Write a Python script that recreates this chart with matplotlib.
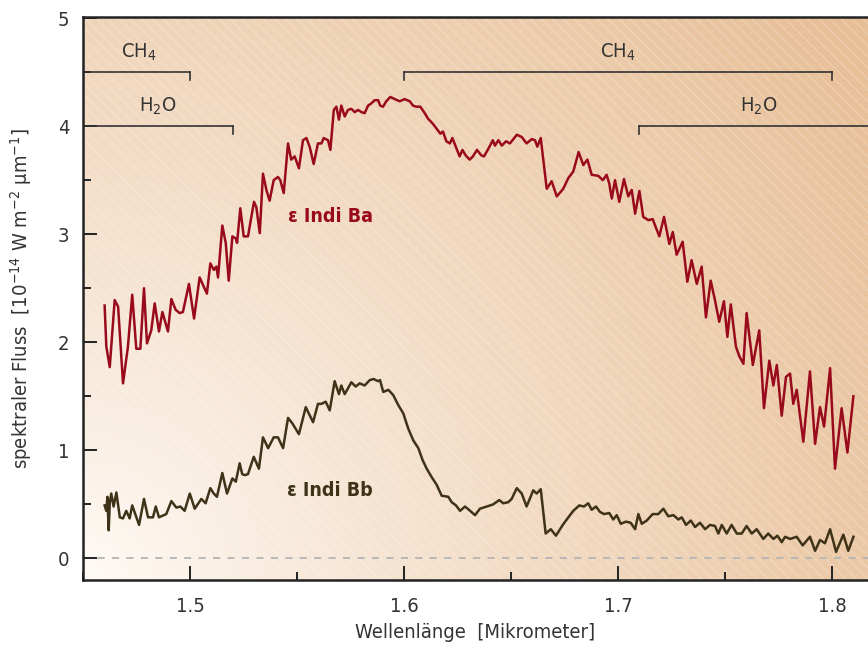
import numpy as np
import matplotlib
matplotlib.use("Agg")
import matplotlib.pyplot as plt
from matplotlib.patches import Rectangle
from matplotlib.ticker import MultipleLocator

plt.rcParams['font.family'] = ['Liberation Sans Narrow', 'DejaVu Sans']
plt.rcParams['font.stretch'] = 'condensed'
plt.rcParams['mathtext.default'] = 'regular'
plt.rcParams['hatch.linewidth'] = 0.8

# epsilon Indi Ba (red)
wl_ba = [1.4601, 1.4609, 1.4625, 1.4648, 1.4664, 1.4687, 1.4710, 1.4730, 1.4749, 1.4768,
         1.4785, 1.4799, 1.4819, 1.4835, 1.4855, 1.4871, 1.4897, 1.4913, 1.4933, 1.4952,
         1.4967, 1.4995, 1.5019, 1.5045, 1.5079, 1.5095, 1.5111, 1.5123, 1.5131, 1.5151,
         1.5167, 1.5181, 1.5198, 1.5214, 1.5220, 1.5235, 1.5251, 1.5271, 1.5299, 1.5310,
         1.5326, 1.5341, 1.5357, 1.5372, 1.5391, 1.5411, 1.5422, 1.5438, 1.5458, 1.5473,
         1.5489, 1.5509, 1.5528, 1.5544, 1.5559, 1.5578, 1.5598, 1.5614, 1.5625, 1.5645,
         1.5656, 1.5672, 1.5684, 1.5696, 1.5707, 1.5723, 1.5738, 1.5754, 1.5770, 1.5785,
         1.5801, 1.5816, 1.5832, 1.5847, 1.5863, 1.5879, 1.5889, 1.5902, 1.5917, 1.5936,
         1.5957, 1.5980, 1.6003, 1.6027, 1.6042, 1.6058, 1.6076, 1.6097, 1.6112, 1.6136,
         1.6151, 1.6170, 1.6182, 1.6198, 1.6214, 1.6226, 1.6242, 1.6260, 1.6273, 1.6288,
         1.6307, 1.6322, 1.6341, 1.6361, 1.6374, 1.6394, 1.6415, 1.6425, 1.6441, 1.6457,
         1.6477, 1.6495, 1.6527, 1.6550, 1.6573, 1.6597, 1.6612, 1.6623, 1.6639, 1.6667,
         1.6690, 1.6714, 1.6744, 1.6768, 1.6791, 1.6816, 1.6838, 1.6857, 1.6877, 1.6908,
         1.6929, 1.6947, 1.6959, 1.6971, 1.6986, 1.7006, 1.7028, 1.7048, 1.7064, 1.7080,
         1.7100, 1.7118, 1.7142, 1.7162, 1.7193, 1.7215, 1.7240, 1.7256, 1.7274, 1.7302,
         1.7324, 1.7344, 1.7368, 1.7391, 1.7411, 1.7433, 1.7453, 1.7473, 1.7495, 1.7511,
         1.7527, 1.7551, 1.7567, 1.7586, 1.7601, 1.7630, 1.7660, 1.7682, 1.7707, 1.7726,
         1.7742, 1.7765, 1.7785, 1.7804, 1.7819, 1.7835, 1.7866, 1.7897, 1.7921, 1.7944,
         1.7963, 1.7991, 1.8014, 1.8045, 1.8072, 1.8100]
flux_ba = [2.34, 1.96, 1.77, 2.39, 2.33, 1.62, 1.96, 2.44, 1.94, 1.94,
           2.50, 1.99, 2.11, 2.36, 2.10, 2.28, 2.10, 2.40, 2.30, 2.27,
           2.28, 2.54, 2.22, 2.60, 2.45, 2.73, 2.67, 2.70, 2.60, 3.08,
           2.92, 2.57, 2.98, 2.96, 2.92, 3.24, 2.98, 2.98, 3.30, 3.25,
           3.01, 3.56, 3.41, 3.31, 3.50, 3.53, 3.50, 3.38, 3.84, 3.69,
           3.72, 3.61, 3.87, 3.89, 3.81, 3.65, 3.84, 3.84, 3.89, 3.87,
           3.78, 4.15, 4.18, 4.06, 4.19, 4.09, 4.15, 4.16, 4.13, 4.15,
           4.13, 4.12, 4.19, 4.21, 4.24, 4.24, 4.19, 4.18, 4.23, 4.27,
           4.25, 4.23, 4.25, 4.23, 4.19, 4.18, 4.18, 4.12, 4.07, 4.02,
           3.98, 3.93, 3.95, 3.86, 3.84, 3.89, 3.81, 3.72, 3.78, 3.73,
           3.69, 3.72, 3.78, 3.73, 3.72, 3.79, 3.87, 3.82, 3.87, 3.82,
           3.86, 3.84, 3.92, 3.90, 3.84, 3.88, 3.87, 3.81, 3.89, 3.42,
           3.49, 3.35, 3.42, 3.52, 3.58, 3.76, 3.64, 3.69, 3.55, 3.54,
           3.50, 3.55, 3.47, 3.33, 3.50, 3.30, 3.51, 3.35, 3.41, 3.19,
           3.40, 3.16, 3.13, 3.14, 2.98, 3.16, 2.91, 3.02, 2.81, 2.93,
           2.56, 2.76, 2.54, 2.70, 2.23, 2.57, 2.39, 2.19, 2.38, 2.05,
           2.35, 1.96, 1.87, 1.80, 2.27, 1.79, 2.11, 1.39, 1.83, 1.60,
           1.79, 1.32, 1.68, 1.71, 1.43, 1.56, 1.08, 1.73, 1.06, 1.40,
           1.22, 1.76, 0.83, 1.39, 0.98, 1.50]

# epsilon Indi Bb (dark brown)
wl_bb = [1.4601, 1.4609, 1.4614, 1.4620, 1.4625, 1.4632, 1.4643, 1.4656, 1.4672, 1.4687,
         1.4702, 1.4718, 1.4730, 1.4762, 1.4785, 1.4804, 1.4827, 1.4840, 1.4855, 1.4889,
         1.4913, 1.4936, 1.4955, 1.4975, 1.4999, 1.5022, 1.5053, 1.5073, 1.5095, 1.5111,
         1.5126, 1.5151, 1.5173, 1.5198, 1.5214, 1.5232, 1.5244, 1.5256, 1.5271, 1.5298,
         1.5322, 1.5341, 1.5365, 1.5391, 1.5411, 1.5435, 1.5458, 1.5478, 1.5509, 1.5541,
         1.5575, 1.5598, 1.5614, 1.5634, 1.5653, 1.5676, 1.5696, 1.5707, 1.5723, 1.5754,
         1.5774, 1.5793, 1.5816, 1.5840, 1.5858, 1.5879, 1.5888, 1.5903, 1.5927, 1.5950,
         1.5973, 1.5997, 1.6020, 1.6044, 1.6067, 1.6087, 1.6106, 1.6130, 1.6153, 1.6176,
         1.6207, 1.6223, 1.6243, 1.6262, 1.6285, 1.6309, 1.6332, 1.6355, 1.6387, 1.6417,
         1.6445, 1.6464, 1.6487, 1.6503, 1.6527, 1.6550, 1.6573, 1.6604, 1.6620, 1.6639,
         1.6662, 1.6686, 1.6710, 1.6742, 1.6768, 1.6791, 1.6819, 1.6841, 1.6861, 1.6877,
         1.6897, 1.6916, 1.6935, 1.6959, 1.6978, 1.6994, 1.7013, 1.7037, 1.7059, 1.7080,
         1.7095, 1.7111, 1.7134, 1.7162, 1.7188, 1.7212, 1.7235, 1.7259, 1.7282, 1.7298,
         1.7318, 1.7340, 1.7360, 1.7383, 1.7407, 1.7430, 1.7453, 1.7469, 1.7485, 1.7508,
         1.7531, 1.7555, 1.7578, 1.7601, 1.7625, 1.7648, 1.7679, 1.7702, 1.7726, 1.7745,
         1.7765, 1.7781, 1.7804, 1.7835, 1.7863, 1.7897, 1.7921, 1.7944, 1.7967, 1.7991,
         1.8019, 1.8053, 1.8076, 1.8100]
flux_bb = [0.49, 0.44, 0.57, 0.26, 0.51, 0.60, 0.48, 0.61, 0.38, 0.37,
           0.44, 0.37, 0.49, 0.31, 0.55, 0.38, 0.38, 0.48, 0.38, 0.41,
           0.53, 0.47, 0.48, 0.44, 0.60, 0.46, 0.55, 0.51, 0.65, 0.60,
           0.57, 0.79, 0.60, 0.74, 0.71, 0.88, 0.78, 0.77, 0.78, 0.94,
           0.83, 1.12, 1.02, 1.12, 1.12, 1.02, 1.30, 1.25, 1.15, 1.40,
           1.26, 1.43, 1.43, 1.45, 1.37, 1.64, 1.52, 1.60, 1.52, 1.63,
           1.59, 1.62, 1.60, 1.65, 1.66, 1.64, 1.65, 1.54, 1.56, 1.51,
           1.42, 1.34, 1.20, 1.09, 1.02, 0.91, 0.83, 0.75, 0.68, 0.58,
           0.57, 0.52, 0.49, 0.44, 0.48, 0.44, 0.40, 0.46, 0.48, 0.50,
           0.54, 0.51, 0.52, 0.55, 0.65, 0.60, 0.48, 0.63, 0.60, 0.64,
           0.23, 0.27, 0.21, 0.31, 0.38, 0.44, 0.49, 0.48, 0.51, 0.45,
           0.48, 0.43, 0.41, 0.42, 0.36, 0.40, 0.32, 0.34, 0.33, 0.27,
           0.41, 0.32, 0.35, 0.41, 0.41, 0.46, 0.39, 0.40, 0.36, 0.38,
           0.31, 0.35, 0.29, 0.33, 0.27, 0.31, 0.30, 0.23, 0.31, 0.23,
           0.31, 0.23, 0.23, 0.30, 0.23, 0.27, 0.18, 0.23, 0.18, 0.21,
           0.15, 0.20, 0.18, 0.20, 0.12, 0.20, 0.07, 0.17, 0.14, 0.27,
           0.06, 0.22, 0.07, 0.20]

# absorption bands: start, end, level, label
band_start = [1.45, 1.45, 1.60, 1.71]
band_end = [1.50, 1.52, 1.80, 1.85]
band_level = [4.5, 4.0, 4.5, 4.0]
band_label = ["CH$_4$", "H$_2$O", "CH$_4$", "H$_2$O"]
band_label_x = [1.476, 1.485, 1.700, 1.766]

red = "#990b1c"
brown = "#3e3318"
ink = "#333333"

fig = plt.figure(figsize=(8.68, 6.5), dpi=100)
ax = fig.add_axes([83/868, 70/650, 785/868, 563/650])
xmin, xmax = 1.45, 1.45 + 785/2140
ymin, ymax = -0.2, 5.01
ax.set_xlim(xmin, xmax)
ax.set_ylim(ymin, ymax)

# background: radial gradient from the lower left corner + faint diagonal stripes
nx, ny = 400, 300
gx, gy = np.meshgrid(np.linspace(0, 785, nx), np.linspace(0, 563, ny))
t = np.sqrt(gx**2 + gy**2) / np.sqrt(785**2 + 563**2)
t = np.clip(t, 0, 1) ** 0.85
c0 = np.array([1.0, 0.985, 0.97])
c1 = np.array([0.905, 0.745, 0.585])
img = c0[None, None, :] * (1 - t[..., None]) + c1[None, None, :] * t[..., None]
ax.imshow(img, extent=[xmin, xmax, ymin, ymax], origin="lower", aspect="auto",
          zorder=0, interpolation="bilinear")
ax.add_patch(Rectangle((0, 0), 1, 1, transform=ax.transAxes, facecolor="none",
                       edgecolor=(1, 1, 1, 0.25), hatch="\\\\\\", linewidth=0, zorder=0.5))

ax.axhline(0, color="#b5b5b5", linestyle=(0, (4, 4)), linewidth=1.3, zorder=1)

ax.plot(wl_ba, flux_ba, color=red, linewidth=1.8, zorder=3)
ax.plot(wl_bb, flux_bb, color=brown, linewidth=1.8, zorder=3)

for s, e, lv, lab, lx in zip(band_start, band_end, band_level, band_label, band_label_x):
    ax.plot([s, e], [lv, lv], color=ink, linewidth=1.2, zorder=2)
    for xe in (s, e):
        if xmin < xe < xmax:
            ax.plot([xe, xe], [lv, lv - 0.07], color=ink, linewidth=1.2, zorder=2)
    ax.text(lx, lv + 0.08, lab, fontsize=14.5, color=ink, ha="center", va="bottom")

ax.text(1.5655, 3.16, "ε Indi Ba", color=red, fontsize=14, fontweight="bold",
        ha="center", va="center")
ax.text(1.5655, 0.63, "ε Indi Bb", color=brown, fontsize=14, fontweight="bold",
        ha="center", va="center")

ax.spines["right"].set_visible(False)
for sp in ("left", "top", "bottom"):
    ax.spines[sp].set_linewidth(1.8)
    ax.spines[sp].set_color("#222222")

ax.xaxis.set_major_locator(MultipleLocator(0.1))
ax.xaxis.set_minor_locator(MultipleLocator(0.05))
ax.yaxis.set_major_locator(MultipleLocator(1))
ax.yaxis.set_minor_locator(MultipleLocator(0.5))
ax.tick_params(which="major", direction="in", length=10, width=1.4, color="#222222",
               labelsize=14.5, labelcolor=ink, pad=12)
ax.tick_params(which="minor", direction="in", length=6, width=1.4, color="#222222")
ax.tick_params(axis="y", which="major", pad=10)
ax.xaxis.set_major_formatter(plt.FuncFormatter(lambda v, p: f"{v:.1f}"))
ax.yaxis.set_major_formatter(plt.FuncFormatter(lambda v, p: f"{v:.0f}"))

ax.set_xlabel("Wellenlänge  [Mikrometer]", fontsize=14.5, color=ink, labelpad=5)
ax.set_ylabel("spektraler Fluss  [10$^{-14}$ W m$^{-2}$ µm$^{-1}$]", fontsize=14.5,
              color=ink, labelpad=17)

fig.savefig("out.png", dpi=100)
